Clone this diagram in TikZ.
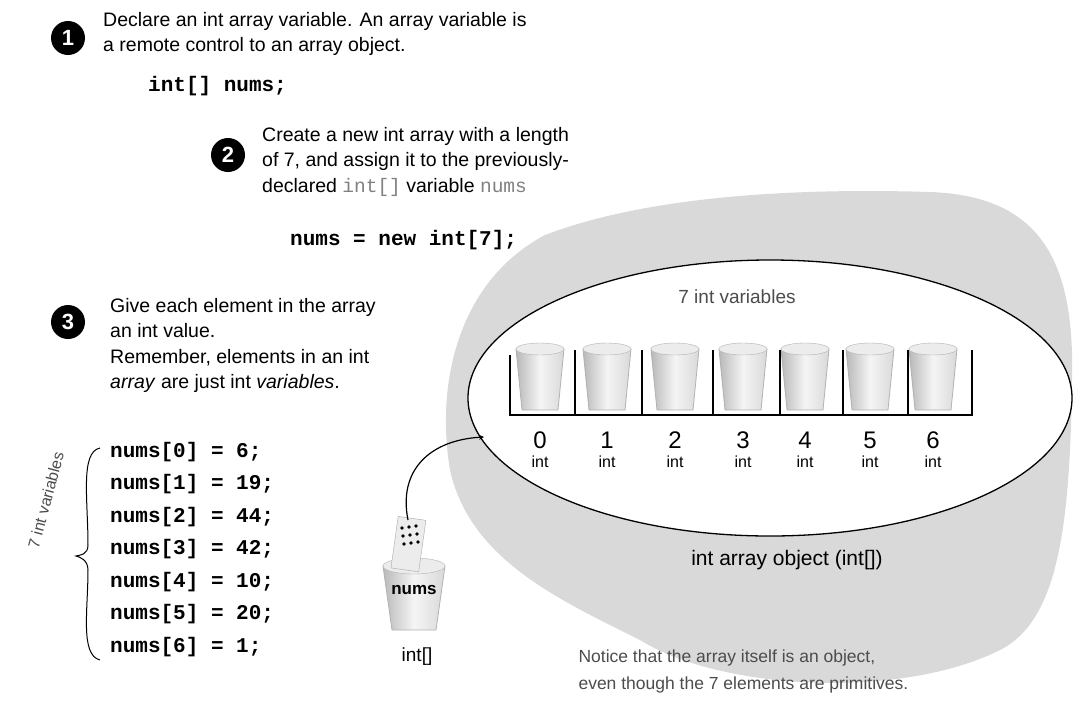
\documentclass[tikz,border=0pt]{standalone}
\usepackage{fontspec}
\setmainfont{Liberation Sans}
\setmonofont{Liberation Mono}
\begin{document}
\begin{tikzpicture}[x=1pt,y=-1pt,
  txt/.style={anchor=north west,align=left,font=\fontsize{19.5}{25.5}\selectfont,inner sep=0pt},
  code/.style={anchor=west,font=\ttfamily\bfseries\fontsize{21}{24}\selectfont,inner sep=0pt},
  num/.style={circle,fill=black,text=white,font=\bfseries\fontsize{22}{22}\selectfont,minimum size=34pt,inner sep=0pt},
  hand/.style={font=\fontsize{19}{19}\selectfont,text=black!70},
  cup/.style={shade,top color=gray!55,bottom color=gray!30,middle color=gray!8,shading angle=90,draw=gray!60,line width=0.8pt}]
\useasboundingbox (0,0) rectangle (1080,713);
% gray blob
\fill[gray!30] (545,235) .. controls (650,195) and (800,188) .. (930,192)
  .. controls (1040,196) and (1075,260) .. (1072,380)
  .. controls (1070,520) and (1060,620) .. (1000,650)
  .. controls (900,700) and (720,690) .. (640,640)
  .. controls (560,600) and (470,560) .. (450,470)
  .. controls (435,380) and (460,280) .. (545,235) -- cycle;
% ellipse
\draw[line width=1.3pt,fill=white] (770,398) ellipse [x radius=302,y radius=138];
\node[hand] (t7) at (737,297) {7 int variables};
% cups
\foreach \x [count=\i from 0] in {540,607,675,743,805,870,933}{
  \draw[cup] (\x-24,349) -- (\x-18,410) -- (\x+18,410) -- (\x+24,349) -- cycle;
  \draw[fill=gray!15,draw=gray!60] (\x,349) ellipse [x radius=24,y radius=6];
  \node[font=\fontsize{24}{24}\selectfont] (n\i) at (\x,440) {\i};
  \node[font=\fontsize{16}{16}\selectfont] (i\i) at (\x,462) {int};
}
\draw[line width=2pt] (510,355) -- (510,415) -- (972,415) -- (972,350);
\foreach \x in {575,642,713,780,843,908} \draw[line width=2pt] (\x,350) -- (\x,415);
\node[font=\fontsize{21}{21}\selectfont] (obj) at (787,560) {int array object (int[])};
% step 1
\node[num] (c1) at (68,38) {1};
\node[txt] (s1) at (103,12) {Declare an int array variable. An array variable is\\a remote control to an array object.};
\node[code] (k1) at (148,86) {int[] nums;};
% step 2
\node[num] (c2) at (228,155) {2};
\node[txt] (s2) at (262,127) {Create a new int array with a length\\of 7, and assign it to the previously-\\declared {\ttfamily\color{gray}int[]} variable {\ttfamily\color{gray}nums}};
\node[code] (k2) at (290,240) {nums = new int[7];};
% step 3
\node[num] (c3) at (68,322) {3};
\node[txt] (s3) at (110,298) {Give each element in the array\\an int value.\\Remember, elements in an int\\\emph{array} are just int \emph{variables}.};
\foreach \v [count=\i from 0] in {6,19,44,42,10,20,1}{
  \node[code] (a\i) at (110,452+\i*32.5) {nums[\i] = \v;};
}
\draw[line width=1pt] (100,448) .. controls (80,452) and (88,500) .. (88,545)
  .. controls (88,555) and (80,555) .. (76,556)
  .. controls (80,557) and (88,560) .. (88,570)
  .. controls (88,610) and (80,655) .. (100,660);
\node[hand,rotate=75,font=\fontsize{16}{16}\selectfont,inner sep=0pt] (t7b) at (46,500) {7 int variables};
% remote cup
\draw[cup] (383,566) -- (392,630) -- (436,630) -- (445,566) -- cycle;
\draw[fill=gray!15,draw=gray!60] (414,566) ellipse [x radius=31,y radius=8];
\draw[fill=gray!15,draw=gray!70,rotate around={-8:(408,540)}] (395,518) rectangle (423,570);
\foreach \p in {(402,528),(409,527),(416,526),(403,536),(410,535),(417,534),(404,544),(411,543),(418,542)} \fill \p circle (1.8);
\node[font=\bfseries\fontsize{17}{17}\selectfont,inner sep=0pt] (nm) at (414,590) {nums};
\node[font=\fontsize{19}{19}\selectfont] (ia) at (417,657) {int[]};
\coordinate (rc) at (408,520);
\coordinate (ep) at (484,437);
\draw[line width=1.2pt,->,>=stealth] (rc) .. controls (398,470) and (430,440) .. (ep);
% note
\node[hand,anchor=north west,align=left,font=\fontsize{17.5}{27}\selectfont] (note) at (575,646) {Notice that the array itself is an object,\\even though the 7 elements are primitives.};
\end{tikzpicture}
\end{document}
